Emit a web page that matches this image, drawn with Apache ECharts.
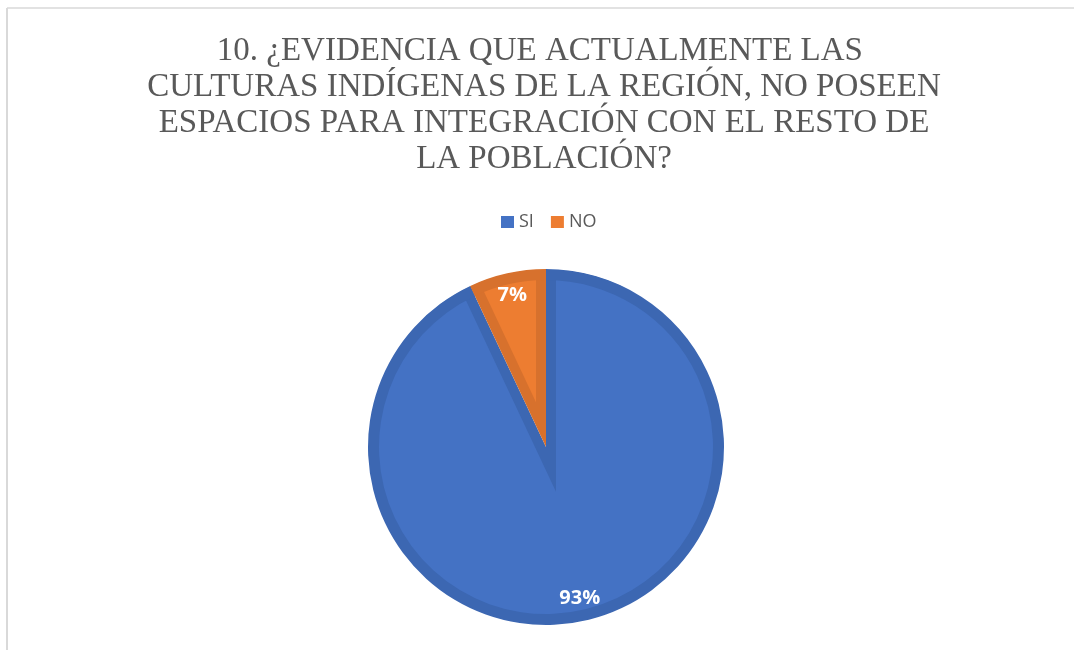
<!DOCTYPE html>
<html>
<head>
<meta charset="utf-8">
<script src="https://cdn.jsdelivr.net/npm/echarts@6/dist/echarts.min.js"></script>
<style>
  html, body { margin: 0; padding: 0; background: #fff; }
  #main { width: 1074px; height: 650px; }
</style>
</head>
<body>
<div id="main"></div>
<script>
// 資料
const categories = ['SI', 'NO'];
const values = [93, 7];
const fillColors = ['#4472C4', '#ED7D31'];
const edgeColors = ['#3C67B2', '#D7712D'];
const titleLines = [
  '10. ¿EVIDENCIA QUE ACTUALMENTE LAS ',
  'CULTURAS INDÍGENAS DE LA REGIÓN, NO POSEEN',
  'ESPACIOS PARA INTEGRACIÓN CON EL RESTO DE',
  'LA POBLACIÓN?'
];

const myChart = echarts.init(document.getElementById('main'));

const center = [546, 447];
const outerR = 178;
const edgeW = 10;   // 扇形內框寬度

// 內框效果：兩個扇形都往外偏移 edgeW / sin(半角)
const total = values.reduce((a, b) => a + b, 0);
const halfAngle = (values[1] / total) * Math.PI;
const insetOffset = edgeW / Math.sin(halfAngle);
const fillR = outerR - edgeW + insetOffset + 2;

function pieData(colors, extra) {
  return categories.map((name, i) => Object.assign({
    name: name,
    value: values[i],
    itemStyle: { color: colors[i] }
  }, extra || {}));
}

const base = {
  type: 'pie',
  center: center,
  startAngle: 90,
  clockwise: true,
  silent: true,
  animation: false,
  label: { show: false },
  labelLine: { show: false },
  emphasis: { disabled: true }
};

const option = {
  backgroundColor: '#fff',
  animation: false,
  title: {
    text: titleLines.join('\n'),
    left: 539,
    top: 28,
    textAlign: 'center',
    textStyle: {
      fontFamily: 'Liberation Serif',
      fontSize: 33,
      fontWeight: 'normal',
      lineHeight: 36,
      color: '#595959'
    }
  },
  legend: {
    left: 496,
    top: 208,
    itemWidth: 13,
    itemHeight: 12,
    itemGap: 17,
    icon: 'rect',
    selectedMode: false,
    textStyle: { fontFamily: 'Open Sans', fontSize: 18, color: '#595959' },
    data: categories.map((name, i) => ({ name: name, itemStyle: { color: fillColors[i] } }))
  },
  graphic: [
    { type: 'line', shape: { x1: 7, y1: 8, x2: 1074, y2: 8 }, style: { stroke: '#d9d9d9', lineWidth: 1.5 } },
    { type: 'line', shape: { x1: 7, y1: 8, x2: 7, y2: 650 }, style: { stroke: '#d9d9d9', lineWidth: 2 } }
  ],
  series: [
    // 深色底
    Object.assign({}, base, { radius: outerR, data: pieData(edgeColors) }),
    // 淺色填充 (往外偏移形成內框)
    Object.assign({}, base, {
      radius: fillR,
      selectedMode: 'multiple',
      selectedOffset: insetOffset,
      data: pieData(fillColors, { selected: true })
    }),
    // 外圈深色環
    Object.assign({}, base, { radius: [outerR - edgeW - 1, outerR + 0.5], data: pieData(edgeColors) }),
    // 白色遮罩
    Object.assign({}, base, {
      radius: [outerR, fillR + insetOffset + 15],
      data: categories.map((name, i) => ({ name: name, value: values[i], itemStyle: { color: '#fff' } }))
    }),
    // 標籤
    Object.assign({}, base, {
      radius: [126, outerR],
      itemStyle: { color: 'transparent' },
      label: {
        show: true,
        position: 'inside',
        formatter: '{c}%',
        color: '#fff',
        fontFamily: 'Open Sans',
        fontWeight: 'bold',
        fontSize: 20
      },
      data: categories.map((name, i) => ({ name: name, value: values[i], itemStyle: { color: 'transparent' } }))
    })
  ]
};

myChart.setOption(option);
</script>
</body>
</html>
